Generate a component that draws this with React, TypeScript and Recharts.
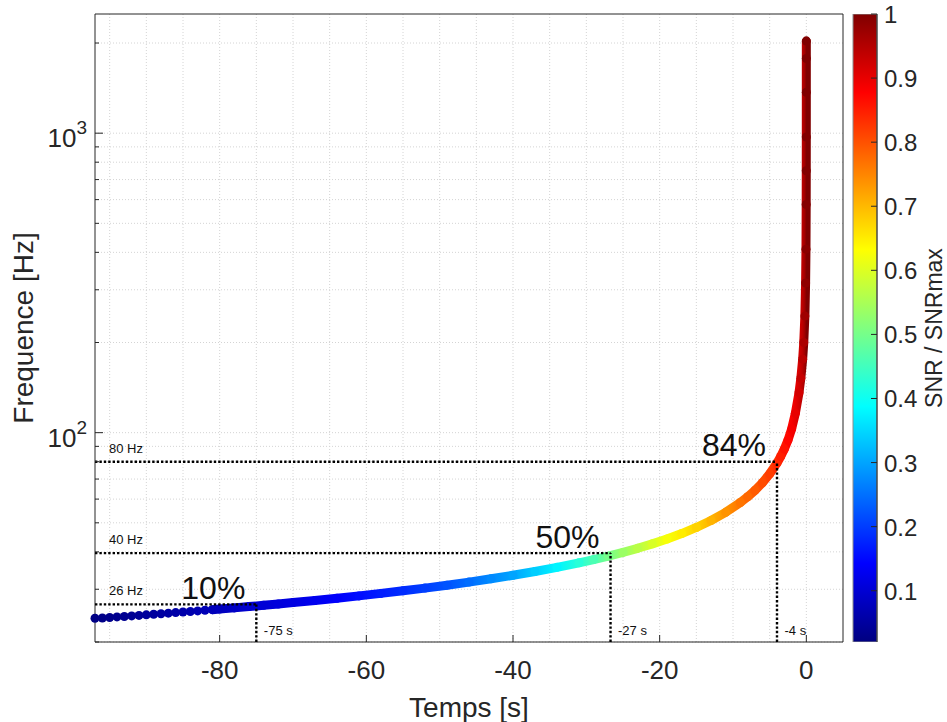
import React from 'react';
import {
  ComposedChart,
  XAxis,
  YAxis,
  Line,
  Bar,
  Scatter,
  ReferenceLine,
  ReferenceDot,
  Label,
} from 'recharts';

// ---------- data ----------
const timeS = [
  -97, -96, -95, -94, -93, -92, -91, -90, -89, -88, -87, -86, -85, -84, -83, -82, -81, -80,
  -78, -76, -74, -72, -70, -67, -64, -61, -58, -55, -52, -49, -46, -43, -40, -37, -34, -31,
  -29, -27, -25, -23, -21, -19, -17, -15, -13, -11, -9, -8, -7, -6, -5, -4, -3.5, -3, -2.5,
  -2, -1.5, -1, -0.75, -0.5, -0.35, -0.2, -0.1, -0.05, -0.02, -0.01, -0.005, -0.002, -0.001, 0,
];
const freqHz = [
  24.0, 24.05, 24.15, 24.25, 24.34, 24.44, 24.54, 24.64, 24.75, 24.85, 24.96, 25.07, 25.18, 25.29, 25.4, 25.52, 25.64, 25.76,
  26.0, 26.26, 26.52, 26.79, 27.08, 27.53, 28.0, 28.51, 29.06, 29.64, 30.27, 30.96, 31.7, 32.51, 33.4, 34.39, 35.5, 36.75,
  37.68, 38.7, 39.83, 41.1, 42.53, 44.15, 46.03, 48.25, 50.91, 54.2, 58.43, 61.08, 64.21, 68.03, 72.84, 79.2, 83.26, 88.22, 94.47,
  103, 116, 136, 152, 176, 200, 245, 316, 410, 578, 749, 971, 1370, 1776, 2030,
];
const snrFrac = [
  0.025, 0.028, 0.031, 0.034, 0.037, 0.04, 0.043, 0.046, 0.049, 0.052, 0.055, 0.058, 0.062, 0.065, 0.069, 0.072, 0.076, 0.08,
  0.088, 0.096, 0.103, 0.109, 0.115, 0.127, 0.14, 0.155, 0.17, 0.185, 0.203, 0.222, 0.247, 0.275, 0.3, 0.34, 0.378, 0.425,
  0.46, 0.5, 0.535, 0.565, 0.595, 0.625, 0.65, 0.675, 0.705, 0.735, 0.765, 0.778, 0.79, 0.805, 0.82, 0.84, 0.85, 0.86, 0.872,
  0.885, 0.9, 0.92, 0.932, 0.945, 0.958, 0.97, 0.985, 0.99, 0.995, 0.997, 0.998, 0.999, 1.0, 1.0,
];

const xTicks = [-80, -60, -40, -20, 0];
const yTicks = [20, 30, 40, 50, 60, 70, 80, 90, 100, 200, 300, 400, 500, 600, 700, 800, 900, 1000, 2000];
const yDecades = [100, 1000];
const xGrid = [-95, -90, -85, -80, -75, -70, -65, -60, -55, -50, -45, -40, -35, -30, -25, -20, -15, -10, -5, 0];
const yGrid = [20, 30, 40, 50, 60, 70, 80, 90, 100, 200, 300, 400, 500, 600, 700, 800, 900, 1000, 2000];
const cbTicks = [0.1, 0.2, 0.3, 0.4, 0.5, 0.6, 0.7, 0.8, 0.9, 1];
const cbRange = [0.02, 1];
const xDomain = [-97, 5];
const yDomain = [20, 2500];

const markTimes = [-75, -26.7, -4];
const markFreqs = [26.7, 39.6, 80];
const markPct = ['10%', '50%', '84%'];
const markTimeLabels = ['-75 s', '-27 s', '-4 s'];
const markFreqLabels = ['26 Hz', '40 Hz', '80 Hz'];

const lineFrom = -81; // before this time the samples are shown as separate beads only

// ---------- styling helpers ----------
const FONT = '"Liberation Sans", Arial, Helvetica, sans-serif';
const AX = '#262626';
const GRID = '#d4d4d4';

const clamp = (v: number) => Math.max(0, Math.min(1, v));
const jet = (n: number) => {
  const r = clamp(1.5 - Math.abs(4 * n - 3));
  const g = clamp(1.5 - Math.abs(4 * n - 2));
  const b = clamp(1.5 - Math.abs(4 * n - 1));
  return `rgb(${Math.round(r * 255)},${Math.round(g * 255)},${Math.round(b * 255)})`;
};
const snrColor = (s: number) => jet(clamp((s - cbRange[0]) / (cbRange[1] - cbRange[0])));
const jetBreaks = [0, 0.125, 0.25, 0.375, 0.5, 0.625, 0.75, 0.875, 1];

const points = timeS.map((t, i) => ({ t, f: freqHz[i], s: snrFrac[i] }));
const linePts = points.filter((p) => p.t >= lineFrom);
const t0 = linePts[0].t;
const t1 = linePts[linePts.length - 1].t;

const colorbarData = [{ name: 'snr', range: cbRange }];

const XTick = (props: any) => {
  const { x, y, payload } = props;
  return (
    <g>
      <line x1={x} x2={x} y1={y} y2={y - 7} stroke={AX} strokeWidth={1} />
      <text x={x} y={y + 37} textAnchor="middle" fontSize={26} fill={AX} fontFamily={FONT}>
        {String(payload.value)}
      </text>
    </g>
  );
};

const YTick = (props: any) => {
  const { x, y, payload } = props;
  const major = yDecades.includes(payload.value);
  const exp = Math.round(Math.log10(payload.value));
  return (
    <g>
      <line x1={x} x2={x + (major ? 8 : 4)} y1={y} y2={y} stroke={AX} strokeWidth={1} />
      {major && (
        <text x={x - 8} y={y + 14} textAnchor="end" fontSize={26} fill={AX} fontFamily={FONT}>
          10
          <tspan dy={-13} fontSize={19}>
            {String(exp)}
          </tspan>
        </text>
      )}
    </g>
  );
};

const CbTick = (props: any) => {
  const { x, y, payload } = props;
  return (
    <g>
      <line x1={x - 6} x2={x} y1={y} y2={y} stroke={AX} strokeWidth={1} />
      <text x={x + 7} y={y + 9} fontSize={24} fill={AX} fontFamily={FONT}>
        {String(payload.value)}
      </text>
    </g>
  );
};

const XLabel = (props: any) => {
  const vb = props.viewBox;
  return (
    <text x={vb.x + vb.width / 2} y={vb.y + 75} textAnchor="middle" fontSize={28} fill={AX} fontFamily={FONT}>
      Temps [s]
    </text>
  );
};

const YLabel = (props: any) => {
  const vb = props.viewBox;
  const x = vb.x + vb.width - 62;
  const y = vb.y + vb.height / 2;
  return (
    <text x={x} y={y} transform={`rotate(-90, ${x}, ${y})`} textAnchor="middle" fontSize={28} fill={AX} fontFamily={FONT}>
      Frequence [Hz]
    </text>
  );
};

const CbLabel = (props: any) => {
  const vb = props.viewBox;
  const x = vb.x + 65;
  const y = vb.y + vb.height / 2;
  return (
    <text x={x} y={y} transform={`rotate(-90, ${x}, ${y})`} textAnchor="middle" fontSize={23} fill={AX} fontFamily={FONT}>
      SNR / SNRmax
    </text>
  );
};

const Bead = (props: any) => {
  const { cx, cy, payload } = props;
  if (cx == null || cy == null) return <g />;
  return <circle cx={cx} cy={cy} r={4.5} fill={snrColor(payload.s)} />;
};

export default function App() {
  return (
    <div style={{ position: 'absolute', left: 0, top: 0, width: 947, height: 722, background: '#fff', fontFamily: FONT }}>
      <div style={{ position: 'absolute', left: 0, top: 0 }}>
        <ComposedChart width={947} height={722} margin={{ top: 14, right: 104, bottom: 50, left: 35 }}>
          <defs>
            <linearGradient id="curveGrad" x1="0" y1="0" x2="1" y2="0">
              {linePts.map((p, i) => (
                <stop key={i} offset={(p.t - t0) / (t1 - t0)} stopColor={snrColor(p.s)} />
              ))}
            </linearGradient>
          </defs>
          <XAxis
            type="number"
            dataKey="t"
            domain={xDomain}
            ticks={xTicks}
            interval={0}
            height={30}
            tickSize={0}
            tickMargin={0}
            tickLine={false}
            axisLine={{ stroke: AX, strokeWidth: 1 }}
            tick={XTick}
          >
            <Label content={XLabel} />
          </XAxis>
          <YAxis
            type="number"
            dataKey="f"
            scale="log"
            domain={yDomain}
            ticks={yTicks}
            interval={0}
            width={60}
            tickSize={0}
            tickMargin={0}
            tickLine={false}
            axisLine={{ stroke: AX, strokeWidth: 1 }}
            tick={YTick}
          >
            <Label content={YLabel} />
          </YAxis>

          {xGrid.map((v) => (
            <ReferenceLine key={'gx' + v} x={v} stroke={GRID} strokeWidth={1} strokeDasharray="1 2" zIndex={-50} />
          ))}
          {yGrid.map((v) => (
            <ReferenceLine key={'gy' + v} y={v} stroke={GRID} strokeWidth={1} strokeDasharray="1 2" zIndex={-50} />
          ))}
          <ReferenceLine y={yDomain[1]} stroke={AX} strokeWidth={1} ifOverflow="visible" />
          <ReferenceLine x={xDomain[1]} stroke={AX} strokeWidth={1} ifOverflow="visible" />

          <Line
            data={linePts}
            dataKey="f"
            type="linear"
            stroke="url(#curveGrad)"
            strokeWidth={9}
            strokeLinecap="round"
            strokeLinejoin="round"
            dot={false}
            activeDot={false}
            isAnimationActive={false}
          />
          <Scatter data={points} dataKey="f" shape={Bead} isAnimationActive={false} />

          {markTimes.map((t, i) => (
            <ReferenceLine
              key={'mh' + i}
              segment={[
                { x: xDomain[0], y: markFreqs[i] },
                { x: t, y: markFreqs[i] },
              ]}
              stroke="#000"
              strokeWidth={2.4}
              strokeDasharray="2.4 2"
              zIndex={1000}
            />
          ))}
          {markTimes.map((t, i) => (
            <ReferenceLine
              key={'mv' + i}
              segment={[
                { x: t, y: yDomain[0] },
                { x: t, y: markFreqs[i] },
              ]}
              stroke="#000"
              strokeWidth={2.4}
              strokeDasharray="2.4 2"
              zIndex={1000}
            />
          ))}
          {markTimes.map((t, i) => (
            <ReferenceDot
              key={'mp' + i}
              x={t}
              y={markFreqs[i]}
              r={0}
              zIndex={1100}
              shape={(p: any) => (
                <text x={p.cx - 11} y={p.cy - 5.5} textAnchor="end" fontSize={32} fill="#111" fontFamily={FONT}>
                  {markPct[i]}
                </text>
              )}
            />
          ))}
          {markTimes.map((t, i) => (
            <ReferenceDot
              key={'mt' + i}
              x={t}
              y={yDomain[0]}
              r={0}
              zIndex={1100}
              shape={(p: any) => (
                <text x={p.cx + 7.5} y={p.cy - 7} fontSize={13} fill="#111" fontFamily={FONT}>
                  {markTimeLabels[i]}
                </text>
              )}
            />
          ))}
          {markFreqs.map((f, i) => (
            <ReferenceDot
              key={'mf' + i}
              x={xDomain[0]}
              y={f}
              r={0}
              zIndex={1100}
              shape={(p: any) => (
                <text x={p.cx + 14} y={p.cy - 9} fontSize={13} fill="#111" fontFamily={FONT}>
                  {markFreqLabels[i]}
                </text>
              )}
            />
          ))}
        </ComposedChart>
      </div>

      <div style={{ position: 'absolute', left: 800, top: 0 }}>
        <ComposedChart
          width={147}
          height={722}
          data={colorbarData}
          margin={{ top: 14, right: 10, bottom: 80, left: 53 }}
          barCategoryGap={0}
          barGap={0}
        >
          <defs>
            <linearGradient id="jetV" x1="0" y1="1" x2="0" y2="0">
              {jetBreaks.map((n, i) => (
                <stop key={i} offset={n} stopColor={jet(n)} />
              ))}
            </linearGradient>
          </defs>
          <XAxis type="category" dataKey="name" hide />
          <YAxis
            type="number"
            orientation="right"
            domain={cbRange}
            allowDataOverflow
            ticks={cbTicks}
            interval={0}
            width={60}
            tickSize={0}
            tickMargin={0}
            tickLine={false}
            axisLine={{ stroke: AX, strokeWidth: 1 }}
            tick={CbTick}
          >
            <Label content={CbLabel} />
          </YAxis>
          <Bar
            dataKey="range"
            fill="url(#jetV)"
            stroke="#8c8c8c"
            strokeWidth={1}
            isAnimationActive={false}
          />
        </ComposedChart>
      </div>
    </div>
  );
}
